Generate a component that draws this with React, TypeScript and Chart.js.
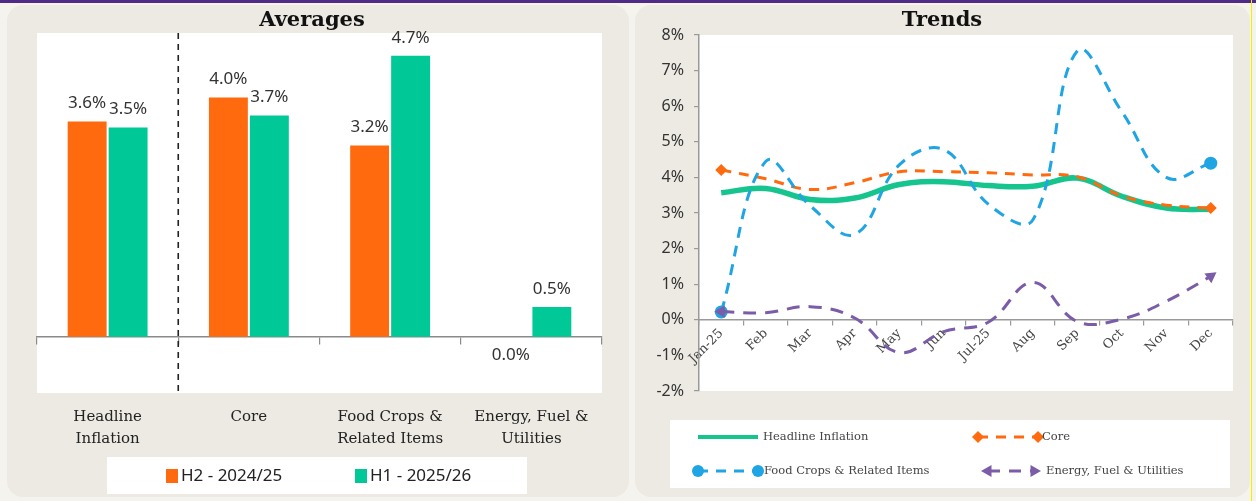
import React, { useEffect, useRef } from 'react';
import { Chart, registerables } from 'chart.js';
Chart.register(...registerables);

// ---------- Data: Averages ----------
const barCategories = [['Headline', 'Inflation'], ['Core'], ['Food Crops &', 'Related Items'], ['Energy, Fuel &', 'Utilities']];
const seriesNames = ['H2 - 2024/25', 'H1 - 2025/26'];
const h2Values = [3.6, 4.0, 3.2, 0.0];
const h1Values = [3.5, 3.7, 4.7, 0.5];

// ---------- Data: Trends ----------
const months = ['Jan-25', 'Feb', 'Mar', 'Apr', 'May', 'Jun', 'Jul-25', 'Aug', 'Sep', 'Oct', 'Nov', 'Dec'];
const trendNames = ['Headline Inflation', 'Core', 'Food Crops & Related Items', 'Energy, Fuel & Utilities'];
const headline = [3.57, 3.69, 3.38, 3.42, 3.8, 3.88, 3.77, 3.75, 3.98, 3.47, 3.14, 3.1];
const core = [4.21, 3.96, 3.66, 3.85, 4.16, 4.16, 4.13, 4.07, 4.02, 3.48, 3.22, 3.14];
const foodCrops = [0.22, 4.45, 3.2, 2.4, 4.35, 4.78, 3.25, 2.8, 7.55, 5.85, 4.0, 4.4];
const energy = [0.23, 0.2, 0.37, 0.05, -0.92, -0.33, -0.07, 1.05, -0.05, 0.02, 0.52, 1.22];
const trendMin = -2;
const trendMax = 8;

const ORANGE = '#FF6A0E';
const GREEN = '#00C896';
const LGREEN = '#16C58E';
const BLUE = '#1FA4E4';
const PURPLE = '#7A5CA8';
const PANEL = '#ECEAE2';

const serif = '"DejaVu Serif", serif';
const sans = '"Noto Sans", sans-serif';

function drawTriangle(ctx: CanvasRenderingContext2D, x: number, y: number, r: number, deg: number) {
  const rad = (deg * Math.PI) / 180;
  ctx.beginPath();
  for (let k = 0; k < 3; k++) {
    const a = rad + (k * 2 * Math.PI) / 3;
    const px = x + Math.sin(a) * r;
    const py = y - Math.cos(a) * r;
    if (k === 0) ctx.moveTo(px, py); else ctx.lineTo(px, py);
  }
  ctx.closePath();
  ctx.fill();
}

function drawDiamond(ctx: CanvasRenderingContext2D, x: number, y: number, r: number) {
  ctx.beginPath();
  ctx.moveTo(x, y - r);
  ctx.lineTo(x + r, y);
  ctx.lineTo(x, y + r);
  ctx.lineTo(x - r, y);
  ctx.closePath();
  ctx.fill();
}

const leftPlugin = {
  id: 'leftDecor',
  beforeDraw(chart: any) {
    const { ctx, chartArea: a } = chart;
    ctx.save();
    ctx.fillStyle = '#ffffff';
    ctx.fillRect(a.left, a.top, a.right - a.left, a.bottom - a.top);
    ctx.fillRect(107, 457, 420, 37);
    ctx.restore();
  },
  afterDatasetsDraw(chart: any) {
    const { ctx, chartArea: a } = chart;
    const xs = chart.scales.x;
    const xp = (xs.getPixelForValue(0) + xs.getPixelForValue(1)) / 2;
    ctx.save();
    ctx.strokeStyle = '#222';
    ctx.lineWidth = 1.6;
    ctx.setLineDash([6, 5]);
    ctx.beginPath();
    ctx.moveTo(xp, a.top);
    ctx.lineTo(xp, a.bottom);
    ctx.stroke();
    ctx.setLineDash([]);
    ctx.font = `17px ${sans}`;
    ctx.fillStyle = '#333';
    ctx.textAlign = 'center';
    ctx.textBaseline = 'middle';
    chart.data.datasets.forEach((ds: any, di: number) => {
      const meta = chart.getDatasetMeta(di);
      meta.data.forEach((el: any, i: number) => {
        const v = ds.data[i];
        const txt = v.toFixed(1) + '%';
        const y = v === 0 ? el.y + 18 : el.y - 18;
        ctx.fillText(txt, el.x, y);
      });
    });
    ctx.restore();
  },
  afterDraw(chart: any) {
    const { ctx } = chart;
    ctx.save();
    ctx.fillStyle = '#111';
    ctx.font = `bold 21px ${serif}`;
    ctx.textAlign = 'center';
    ctx.textBaseline = 'middle';
    ctx.fillText('Averages', 312, 21);
    // legend
    ctx.font = `17px ${sans}`;
    ctx.textAlign = 'left';
    ctx.fillStyle = ORANGE;
    ctx.fillRect(166, 469, 12, 14);
    ctx.fillStyle = '#222';
    ctx.fillText(seriesNames[0], 181, 476);
    ctx.fillStyle = GREEN;
    ctx.fillRect(355, 469, 12, 14);
    ctx.fillStyle = '#222';
    ctx.fillText(seriesNames[1], 370, 476);
    ctx.restore();
  },
};

const rightPlugin = {
  id: 'rightDecor',
  beforeDraw(chart: any) {
    const { ctx, chartArea: a } = chart;
    ctx.save();
    ctx.fillStyle = '#ffffff';
    ctx.fillRect(a.left, a.top, a.right - a.left, a.bottom - a.top);
    ctx.fillRect(40, 420, 560, 68);
    ctx.restore();
  },
  afterDraw(chart: any) {
    const { ctx } = chart;
    ctx.save();
    ctx.fillStyle = '#111';
    ctx.font = `bold 21px ${serif}`;
    ctx.textAlign = 'center';
    ctx.textBaseline = 'middle';
    ctx.fillText('Trends', 312, 21);

    ctx.font = `11.5px ${serif}`;
    ctx.textAlign = 'left';
    const y1 = 437;
    const y2 = 471;
    // Headline
    ctx.strokeStyle = LGREEN;
    ctx.lineWidth = 4;
    ctx.beginPath(); ctx.moveTo(68, y1); ctx.lineTo(128, y1); ctx.stroke();
    ctx.fillStyle = '#444';
    ctx.fillText(trendNames[0], 133, y1);
    // Core
    ctx.strokeStyle = ORANGE;
    ctx.lineWidth = 3;
    ctx.setLineDash([10, 8]);
    ctx.beginPath(); ctx.moveTo(348, y1); ctx.lineTo(408, y1); ctx.stroke();
    ctx.setLineDash([]);
    ctx.fillStyle = ORANGE;
    drawDiamond(ctx, 348, y1, 6);
    drawDiamond(ctx, 408, y1, 6);
    ctx.fillStyle = '#444';
    ctx.fillText(trendNames[1], 412, y1);
    // Food
    ctx.strokeStyle = BLUE;
    ctx.setLineDash([10, 8]);
    ctx.beginPath(); ctx.moveTo(68, y2); ctx.lineTo(128, y2); ctx.stroke();
    ctx.setLineDash([]);
    ctx.fillStyle = BLUE;
    ctx.beginPath(); ctx.arc(68, y2, 6, 0, Math.PI * 2); ctx.fill();
    ctx.beginPath(); ctx.arc(128, y2, 6, 0, Math.PI * 2); ctx.fill();
    ctx.fillStyle = '#444';
    ctx.fillText(trendNames[2], 134, y2);
    // Energy
    ctx.strokeStyle = PURPLE;
    ctx.setLineDash([12, 9]);
    ctx.beginPath(); ctx.moveTo(358, y2); ctx.lineTo(404, y2); ctx.stroke();
    ctx.setLineDash([]);
    ctx.fillStyle = PURPLE;
    drawTriangle(ctx, 358, y2, 7, -90);
    drawTriangle(ctx, 404, y2, 7, 90);
    ctx.fillStyle = '#444';
    ctx.fillText(trendNames[3], 416, y2);
    ctx.restore();
  },
};

export default function App() {
  const leftRef = useRef<HTMLCanvasElement>(null);
  const rightRef = useRef<HTMLCanvasElement>(null);

  useEffect(() => {
    document.body.style.margin = '0';
    const c1 = new Chart(leftRef.current as HTMLCanvasElement, {
      type: 'bar',
      data: {
        labels: barCategories as any,
        datasets: [
          { label: seriesNames[0], data: h2Values, backgroundColor: ORANGE, barPercentage: 0.95, categoryPercentage: 0.58 },
          { label: seriesNames[1], data: h1Values, backgroundColor: GREEN, barPercentage: 0.95, categoryPercentage: 0.58 },
        ],
      },
      options: {
        responsive: false,
        animation: false,
        events: [],
        layout: { padding: { left: 37, right: 28, top: 33, bottom: 48 } },
        plugins: { legend: { display: false }, tooltip: { enabled: false }, title: { display: false } },
        scales: {
          x: {
            position: { y: 0 } as any,
            offset: true,
            grid: { offset: true, drawOnChartArea: false, drawTicks: true, tickLength: 7, color: '#8a8a8a', lineWidth: 1.2 },
            border: { color: '#8a8a8a', width: 1.5 },
            ticks: { display: false },
          },
          x2: {
            type: 'category',
            position: 'bottom',
            offset: true,
            grid: { display: false },
            border: { display: false },
            ticks: { font: { family: serif, size: 15, lineHeight: 1.45 }, color: '#222', padding: 5, maxRotation: 0, autoSkip: false },
            afterFit: (s: any) => { s.height = 60; },
          },
          y: { display: false, min: -0.94, max: 5.08 },
        },
      } as any,
      plugins: [leftPlugin],
    });

    const n = months.length;
    const ends = (r: number) => months.map((_, i) => (i === 0 || i === n - 1 ? r : 0));
    const c2 = new Chart(rightRef.current as HTMLCanvasElement, {
      type: 'line',
      data: {
        labels: months,
        datasets: [
          { label: trendNames[0], data: headline, borderColor: LGREEN, backgroundColor: LGREEN, borderWidth: 5.5, pointRadius: 0, tension: 0.4, order: 4 },
          { label: trendNames[1], data: core, borderColor: ORANGE, backgroundColor: ORANGE, borderWidth: 3, borderDash: [10, 8], pointStyle: 'rectRot', pointRadius: ends(6), pointBorderWidth: 0, tension: 0.4, order: 3 },
          { label: trendNames[2], data: foodCrops, borderColor: BLUE, backgroundColor: BLUE, borderWidth: 3, borderDash: [11, 8], pointStyle: 'circle', pointRadius: ends(6.5), pointBorderWidth: 0, tension: 0.4, order: 2 },
          { label: trendNames[3], data: energy, borderColor: PURPLE, backgroundColor: PURPLE, borderWidth: 3, borderDash: [13, 9], pointStyle: 'triangle', pointRadius: ends(7), pointRotation: months.map((_, i) => (i === 0 ? -90 : 55)), pointBorderWidth: 0, tension: 0.4, order: 1 },
        ],
      },
      options: {
        responsive: false,
        animation: false,
        events: [],
        layout: { padding: { left: 0, right: 23, top: 35, bottom: 110 } },
        plugins: { legend: { display: false }, tooltip: { enabled: false }, title: { display: false } },
        scales: {
          x: {
            position: { y: 0 } as any,
            offset: true,
            grid: { offset: true, drawOnChartArea: false, tickLength: 5, color: '#999', lineWidth: 1.2 },
            border: { color: '#999', width: 1.5 },
            ticks: { font: { family: serif, size: 13 }, color: '#444', minRotation: 45, maxRotation: 45, padding: 1, autoSkip: false },
          },
          y: {
            min: trendMin,
            max: trendMax,
            ticks: { stepSize: 1, callback: (v: any) => v + '%', font: { family: sans, size: 16 }, color: '#333', padding: 10 },
            grid: { drawOnChartArea: false, tickLength: 5, color: '#999', lineWidth: 1.2 },
            border: { color: '#999', width: 1.5 },
            afterFit: (s: any) => { s.width = 69; },
          },
        },
      } as any,
      plugins: [rightPlugin],
    });

    return () => {
      c1.destroy();
      c2.destroy();
    };
  }, []);

  return (
    <div style={{ position: 'absolute', left: 0, top: 0, width: 1256, height: 501, background: '#F4F3EE', overflow: 'hidden' }}>
      <div style={{ position: 'absolute', left: 0, top: 0, width: 1256, height: 3, background: '#4F2A86' }} />
      <div style={{ position: 'absolute', left: 7, top: 5, width: 622, height: 492, background: PANEL, borderRadius: 16 }} />
      <div style={{ position: 'absolute', left: 635, top: 5, width: 615, height: 492, background: PANEL, borderRadius: 16 }} />
      <div style={{ position: 'absolute', left: 1251, top: 0, width: 1, height: 501, background: '#F2EE00' }} />
      <canvas ref={leftRef} width={630} height={501} style={{ position: 'absolute', left: 0, top: 0, display: 'block' }} />
      <canvas ref={rightRef} width={626} height={501} style={{ position: 'absolute', left: 630, top: 0, display: 'block' }} />
    </div>
  );
}
